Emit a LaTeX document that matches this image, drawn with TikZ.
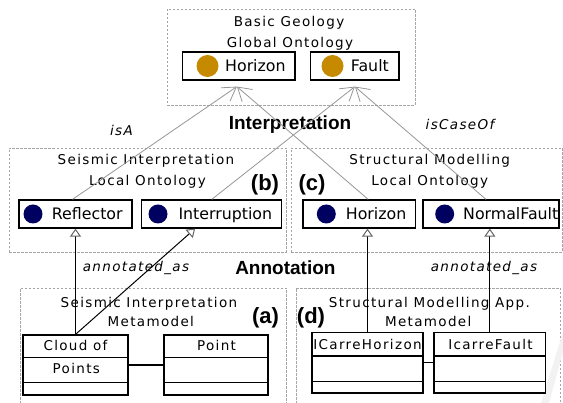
\documentclass[tikz,border=0pt]{standalone}
\usepackage{fontspec}
\setmainfont{DejaVu Sans}
\newfontfamily\lblfont[LetterSpace=10]{DejaVu Sans}
\newfontfamily\clsfont{DejaVu Sans}
\newfontfamily\headfont{Liberation Sans}
\usetikzlibrary{arrows.meta,calc}
\definecolor{dotgold}{RGB}{198,138,0}
\definecolor{dotnavy}{RGB}{0,0,96}
\definecolor{pkggray}{RGB}{165,165,165}
\definecolor{isagray}{RGB}{150,150,150}
\tikzset{
  pkg/.style={draw=pkggray, dash pattern=on 2.5pt off 1.5pt, line width=0.8pt, inner sep=0pt},
  pkgtitle/.style={font=\lblfont\fontsize{13.5}{15}\selectfont, text height=9.8pt, text depth=0pt, inner sep=0pt},
  rolelabel/.style={font=\lblfont\itshape\fontsize{13.5}{15}\selectfont, inner sep=0pt, anchor=base},
  layer/.style={font=\headfont\bfseries\fontsize{19}{21}\selectfont, inner sep=0pt, anchor=base},
  tag/.style={font=\headfont\bfseries\fontsize{22}{24}\selectfont, inner sep=0pt, anchor=base},
  concept/.style={draw, line width=1.2pt, fill=white, inner sep=0pt, minimum height=28pt},
  cname/.style={font=\clsfont\fontsize{15.8}{17}\selectfont, inner sep=0pt, anchor=base west},
  gdot/.style={circle, fill=dotgold, inner sep=0pt, minimum size=22pt},
  ndot/.style={circle, fill=dotnavy, inner sep=0pt, minimum size=19pt},
  umlclass/.style={draw, line width=1.2pt, fill=white, inner sep=0pt, minimum height=60pt},
  umlline/.style={line width=1.2pt},
  isa/.style={draw=isagray, line width=0.8pt, -{Straight Barb[length=13pt,width=16pt]}},
  annot/.style={draw=black, line width=1pt, -{Triangle[open, fill=white, color=gray!80!black, length=8pt, width=11pt]}}
}
\begin{document}
\begin{tikzpicture}[x=1pt,y=-1pt]
\useasboundingbox (0,0) rectangle (563,403);
% packages
\node[pkg, minimum width=248pt, minimum height=96pt] (glob) at (291,57) {};
\node[pkg, minimum width=277pt, minimum height=104pt] (seisLO) at (147.5,200) {};
\node[pkg, minimum width=271pt, minimum height=104pt] (strucLO) at (426.5,200) {};
\draw[pkg] (20.5,404) |- (286,288) -- (286,404);
\draw[pkg] (296,404) |- (560,288) -- (560,404);
\fill[gray!10] (563,332) -- (541,403) -- (549,403) -- (563,352) -- cycle;

\node[pkgtitle] (globT1) at (289,21.2) {Basic Geology};
\node[pkgtitle] (globT2) at (290,43) {Global Ontology};
\node[pkgtitle] (seisT1) at (146,159.5) {Seismic Interpretation};
\node[pkgtitle] (seisT2) at (147.5,181) {Local Ontology};
\node[pkgtitle] (strucT1) at (429.7,159.5) {Structural Modelling};
\node[pkgtitle] (strucT2) at (429.7,181) {Local Ontology};
\node[pkgtitle] (seisM1) at (149,302.8) {Seismic Interpretation};
\node[pkgtitle] (seisM2) at (150.8,321.7) {Metamodel};
\node[pkgtitle] (strucM1) at (429.4,302.8) {Structural Modelling App.};
\node[pkgtitle] (strucM2) at (428.2,321.7) {Metamodel};

\node[tag] (tagb) at (265,190.4) {(b)};
\node[tag] (tagc) at (312,190.4) {(c)};
\node[tag] (taga) at (265.6,323.7) {(a)};
\node[tag] (tagd) at (311,323.7) {(d)};

% concepts
\node[concept, minimum width=112.3pt] (hor1) at (238.9,66) {};
\node[concept, minimum width=88.3pt] (fault) at (354.9,66) {};
\node[gdot] (hor1dot) at (207.5,66) {};
\node[gdot] (faultdot) at (332.5,66) {};
\node[cname] (hor1txt) at (225,71.8) {Horizon};
\node[cname] (faulttxt) at (350.7,71.8) {Fault};

\node[concept, minimum width=113pt] (refl) at (75.5,214) {};
\node[concept, minimum width=140pt] (interr) at (211.7,214) {};
\node[concept, minimum width=112.3pt] (hor2) at (359.2,214) {};
\node[concept, minimum width=136pt] (nf) at (491,214) {};
\node[ndot] (refldot) at (33,214) {};
\node[ndot] (interrdot) at (158,214) {};
\node[ndot] (hor2dot) at (326.3,214) {};
\node[ndot] (nfdot) at (444.7,214) {};
\node[cname] (refltxt) at (51.7,219.8) {Reflector};
\node[cname] (interrtxt) at (178.3,219.8) {Interruption};
\node[cname] (hor2txt) at (345.7,219.8) {Horizon};
\node[cname] (nftxt) at (463,219.8) {NormalFault};

% metamodel classes
\node[umlclass, minimum width=105pt] (cloud) at (75.5,365) {};
\node[umlclass, minimum width=104pt] (point) at (216,365) {};
\node[umlclass, minimum width=111pt, minimum height=60.3pt] (ich) at (367.5,362.85) {};
\node[umlclass, minimum width=111.7pt, minimum height=60.3pt] (icf) at (489.85,362.85) {};
\foreach \c in {cloud,point} {
  \draw[umlline] ($(\c.north west)+(0,23)$) -- ($(\c.north east)+(0,23)$);
  \draw[umlline] ($(\c.north west)+(0,48)$) -- ($(\c.north east)+(0,48)$);
}
\foreach \c in {ich,icf} {
  \draw[umlline] ($(\c.north west)+(0,24)$) -- ($(\c.north east)+(0,24)$);
  \draw[umlline] ($(\c.north west)+(0,49.3)$) -- ($(\c.north east)+(0,49.3)$);
}
\node[pkgtitle] (cloudtxt1) at (75.5,346) {Cloud of};
\node[pkgtitle] (cloudtxt2) at (76.3,369) {Points};
\node[pkgtitle] (pointtxt) at (216.5,346) {Point};
\node[pkgtitle] (ichtxt) at (367.5,345) {ICarreHorizon};
\node[pkgtitle] (icftxt) at (490.5,345) {IcarreFault};
\draw[umlline] (cloud.east) -- (point.west);
\draw[umlline] (ich.east) -- (icf.west);

% layer labels
\node[layer] (interp) at (290,130) {Interpretation};
\node[layer] (annotn) at (285.4,274.7) {Annotation};
\node[rolelabel] (isalbl) at (121.5,136) {isA};
\node[rolelabel] (caselbl) at (460,130) {isCaseOf};
\node[rolelabel] (annl) at (136,271.3) {annotated\_as};
\node[rolelabel] (annr) at (484,271.3) {annotated\_as};

% links
\coordinate (hortip) at ($(hor1.south)+(-2,6)$);
\coordinate (faulttip) at ($(fault.south)+(0,6)$);
\coordinate (intertip) at ($(interr.south west)+(54,0)$);
\draw[isa] ($(refl.north)+(-3,0)$) -- (hortip);
\draw[isa] (interr.north) -- (faulttip);
\draw[isa] ($(hor2.north)+(9,0)$) -- (hortip);
\draw[isa] ($(nf.north)+(-5,0)$) -- (faulttip);
\draw[annot] (cloud.north) -- (refl.south);
\draw[annot] (cloud.north) -- (intertip);
\draw[annot] (ich.north) -- (ich.north |- hor2.south);
\draw[annot] (icf.north) -- (icf.north |- nf.south);
\end{tikzpicture}
\end{document}
